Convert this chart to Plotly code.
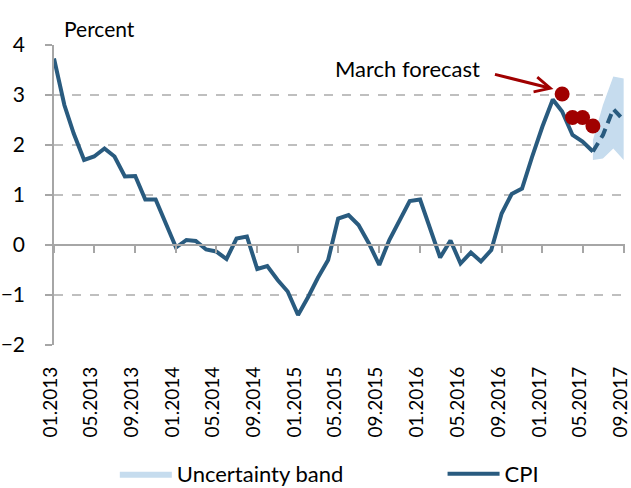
import plotly.graph_objects as go
import pandas as pd

# ---- data ----
months = pd.date_range("2013-01-01", "2017-06-01", freq="MS").strftime("%Y-%m-%d").tolist()
cpi = [3.73, 2.80, 2.23, 1.70, 1.77, 1.93, 1.77, 1.37, 1.38, 0.91,
       0.91, 0.43, -0.05, 0.10, 0.08, -0.09, -0.13, -0.28, 0.13, 0.17,
       -0.48, -0.42, -0.70, -0.93, -1.40, -1.03, -0.66, -0.30, 0.53, 0.60,
       0.40, 0.03, -0.40, 0.10, 0.50, 0.88, 0.91, 0.30, -0.25, 0.09,
       -0.37, -0.15, -0.33, -0.10, 0.63, 1.02, 1.13, 1.76, 2.37, 2.91,
       2.67, 2.20, 2.07, 1.87]

fc_months = ["2017-06-01", "2017-07-01", "2017-08-01", "2017-09-01"]
cpi_forecast = [1.87, 2.20, 2.72, 2.50]
band_low = [1.70, 1.73, 1.93, 1.70]
band_high = [2.10, 2.80, 3.37, 3.33]

march_months = ["2017-03-01", "2017-04-01", "2017-05-01", "2017-06-01"]
march_forecast = [3.02, 2.55, 2.55, 2.38]

tick_dates = pd.date_range("2013-01-01", "2017-09-01", freq="4MS")
tick_vals = tick_dates.strftime("%Y-%m-%d").tolist()
tick_text = tick_dates.strftime("%m.%Y").tolist()

# ---- styles ----
LINE = "#295b7f"
RED = "#a00000"
BAND = "#c6dcee"
GRID = "#bfbfbf"
AXIS = "#a6a6a6"
FONT = "Lato"

fig = go.Figure()

band_x = fc_months + fc_months[::-1]
band_y = band_high + band_low[::-1]
fig.add_trace(go.Scatter(x=band_x, y=band_y, mode="lines", line=dict(width=0, color=BAND),
                         fill="toself", fillcolor=BAND, name="Uncertainty band",
                         legend="legend", hoverinfo="skip"))
fig.add_trace(go.Scatter(x=months, y=cpi, mode="lines", line=dict(width=4, color=LINE),
                         name="CPI", legend="legend2"))
fig.add_trace(go.Scatter(x=fc_months, y=cpi_forecast, mode="lines",
                         line=dict(width=4, color=LINE, dash="10px,6px"), showlegend=False))
fig.add_trace(go.Scatter(x=march_months, y=march_forecast, mode="markers",
                         marker=dict(size=15, color=RED), showlegend=False))
# invisible trace on the zero-line axis
fig.add_trace(go.Scatter(x=[months[0]], y=[0], xaxis="x2", mode="markers",
                         marker=dict(opacity=0), showlegend=False, hoverinfo="skip"))

xrange = ["2013-01-01", "2017-09-05"]

legend_common = dict(orientation="h", yanchor="middle", y=-0.43, xanchor="left",
                     font=dict(size=22), itemwidth=52, bgcolor="rgba(0,0,0,0)")

fig.update_layout(
    width=631, height=488,
    margin=dict(l=54, r=6, t=45, b=143, autoexpand=False),
    paper_bgcolor="white", plot_bgcolor="white",
    font=dict(family=FONT, size=20, color="black"),
    xaxis=dict(
        type="date", range=xrange, tickmode="array", tickvals=tick_vals, ticktext=tick_text,
        tickangle=-90, showgrid=False, showline=False, ticks="", zeroline=False,
        tickfont=dict(size=19), ticklabelstandoff=17, ticklabeloverflow="allow",
        ticklabelshift=-3,
    ),
    xaxis2=dict(
        type="date", range=xrange, overlaying="x", anchor="free", position=1/3,
        tickmode="array", tickvals=tick_vals, showticklabels=False,
        showline=True, linecolor=AXIS, linewidth=1.5, ticks="outside", ticklen=7,
        tickcolor=AXIS, tickwidth=1.5, showgrid=False, zeroline=False,
    ),
    yaxis=dict(
        range=[-2, 4], dtick=1, tick0=0, showgrid=True, gridcolor=GRID, griddash="dash",
        gridwidth=1.5, zeroline=False, showline=True, linecolor=AXIS, linewidth=1.5,
        ticks="outside", ticklen=7, tickcolor=AXIS, tickwidth=1.5,
        tickfont=dict(size=21), ticklabelstandoff=16,
    ),
    legend=dict(x=0.1065, **legend_common),
    legend2=dict(x=0.6805, **legend_common),
    annotations=[
        dict(xref="paper", yref="paper", x=0.0, y=1.055, xanchor="left", yanchor="middle",
             text="Percent", showarrow=False, font=dict(size=21), xshift=8),
        dict(xref="paper", yref="paper", x=0.7496, y=0.923, xanchor="right", yanchor="middle",
             text="March forecast", showarrow=False, font=dict(size=22)),
        dict(x="2017-02-03", y=3.12, xref="x", yref="y", text="", showarrow=True,
             ax=-60, ay=-15, arrowhead=5, arrowsize=1, arrowwidth=3, arrowcolor=RED),
    ],
)

fig.write_html("out.html", config={"displayModeBar": False},
               post_script="document.body.style.margin='0';")
